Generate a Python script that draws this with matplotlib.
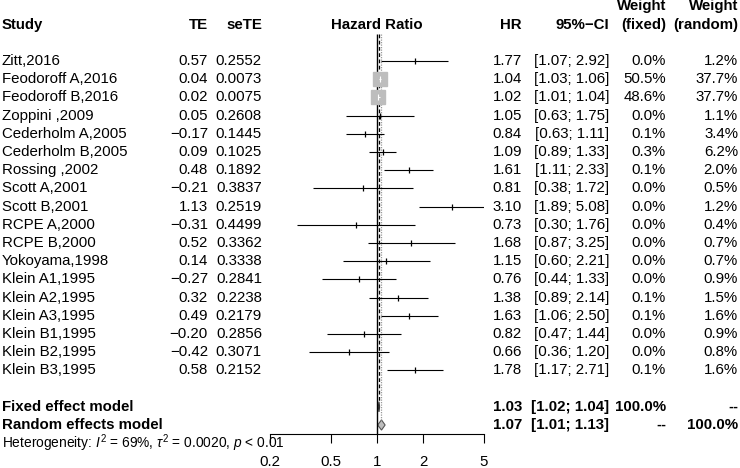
import matplotlib
matplotlib.use('Agg')
import matplotlib.pyplot as plt
import matplotlib.transforms as mtransforms
from matplotlib.ticker import NullLocator
import numpy as np

plt.rcParams['font.family'] = ['Liberation Sans', 'DejaVu Sans']
plt.rcParams['mathtext.fontset'] = 'custom'
plt.rcParams['mathtext.rm'] = 'Liberation Sans'
plt.rcParams['mathtext.it'] = 'Liberation Sans:italic'

# data
studies = ['Zitt,2016', 'Feodoroff A,2016', 'Feodoroff B,2016', 'Zoppini ,2009',
           'Cederholm A,2005', 'Cederholm B,2005', 'Rossing ,2002', 'Scott A,2001',
           'Scott B,2001', 'RCPE A,2000', 'RCPE B,2000', 'Yokoyama,1998',
           'Klein A1,1995', 'Klein A2,1995', 'Klein A3,1995', 'Klein B1,1995',
           'Klein B2,1995', 'Klein B3,1995']
te = [0.57, 0.04, 0.02, 0.05, -0.17, 0.09, 0.48, -0.21, 1.13, -0.31, 0.52, 0.14,
      -0.27, 0.32, 0.49, -0.20, -0.42, 0.58]
sete = ['0.2552', '0.0073', '0.0075', '0.2608', '0.1445', '0.1025', '0.1892', '0.3837',
        '0.2519', '0.4499', '0.3362', '0.3338', '0.2841', '0.2238', '0.2179', '0.2856',
        '0.3071', '0.2152']
hr = [1.77, 1.04, 1.02, 1.05, 0.84, 1.09, 1.61, 0.81, 3.10, 0.73, 1.68, 1.15,
      0.76, 1.38, 1.63, 0.82, 0.66, 1.78]
lo = [1.07, 1.03, 1.01, 0.63, 0.63, 0.89, 1.11, 0.38, 1.89, 0.30, 0.87, 0.60,
      0.44, 0.89, 1.06, 0.47, 0.36, 1.17]
hi = [2.92, 1.06, 1.04, 1.75, 1.11, 1.33, 2.33, 1.72, 5.08, 1.76, 3.25, 2.21,
      1.33, 2.14, 2.50, 1.44, 1.20, 2.71]
w_fixed = [0.0, 50.5, 48.6, 0.0, 0.1, 0.3, 0.1, 0.0, 0.0, 0.0, 0.0, 0.0,
           0.0, 0.1, 0.1, 0.0, 0.0, 0.1]
w_random = [1.2, 37.7, 37.7, 1.1, 3.4, 6.2, 2.0, 0.5, 1.2, 0.4, 0.7, 0.7,
            0.9, 1.5, 1.6, 0.9, 0.8, 1.6]

fixed_est, fixed_lo, fixed_hi = 1.03, 1.02, 1.04
random_est, random_lo, random_hi = 1.07, 1.01, 1.13
xticks = [0.2, 0.5, 1, 2, 5]

W, H = 740, 468
row0, dy = 61, 18.2
fs = 10.8

fig = plt.figure(figsize=(W / 100, H / 100), dpi=100)
ax = fig.add_axes([270 / W, 0, 214 / W, 1])
ax.set_xscale('log')
ax.set_xlim(0.2, 5)
ax.set_ylim((H - row0) / dy, -row0 / dy)
ax.patch.set_visible(False)

tr = mtransforms.blended_transform_factory(fig.transFigure, ax.transData)


def txt(xpx, y, s, ha='right', bold=False, size=fs):
    ax.text(xpx / W, y, s, transform=tr, ha=ha, va='center',
            fontweight='bold' if bold else 'normal', fontsize=size, clip_on=False)


def minus(v):
    return ('%.2f' % v).replace('-', '\u2212')


# headers
txt(2, -2, 'Study', ha='left', bold=True)
txt(208, -2, 'TE', bold=True)
txt(262, -2, 'seTE', bold=True)
txt(377, -2, 'Hazard Ratio', ha='center', bold=True)
txt(522, -2, 'HR', bold=True)
txt(609, -2, '95%\u2212CI', bold=True)
txt(666, -3, 'Weight', bold=True)
txt(666, -2, '(fixed)', bold=True)
txt(738, -3, 'Weight', bold=True)
txt(738, -2, '(random)', bold=True)

rows = np.arange(len(studies))
for i, r in enumerate(rows):
    txt(2, r, studies[i], ha='left')
    txt(208, r, minus(te[i]))
    txt(262, r, sete[i])
    txt(522, r, '%.2f' % hr[i])
    txt(609, r, '[%.2f; %.2f]' % (lo[i], hi[i]))
    txt(666, r, '%.1f%%' % w_fixed[i])
    txt(738, r, '%.1f%%' % w_random[i])

# reference lines
r_fix, r_ran, r_het = len(studies) + 1, len(studies) + 2, len(studies) + 3
ax.vlines(1, -1.5, r_ran + 0.48, color='black', lw=1.0)
ax.vlines(fixed_est, -1.5, r_fix - 0.3, color='black', lw=0.9, linestyles=(0, (3, 2)))
ax.vlines(random_est, -1.5, r_ran - 0.3, color='#999999', lw=0.9, linestyles=(0, (1, 1)))

# study CIs and squares
ax.hlines(rows, lo, hi, color='black', lw=0.8)
ax.plot(hr, rows, ls='none', marker='|', ms=4.5, mew=0.9, color='black')
side = 14.7 * np.sqrt(np.array(w_fixed) / max(w_fixed))
for i, r in enumerate(rows):
    if side[i] > 3:
        ax.plot(hr[i], r, marker='s', ms=side[i] * 0.72, color='#bdbdbd', mec='#bdbdbd')
        ax.hlines(r, lo[i], hi[i], color='white', lw=0.8)
        ax.plot(hr[i], r, marker='|', ms=4, mew=0.8, color='white')

# summary diamonds
h = 0.28
ax.fill([fixed_lo, fixed_est, fixed_hi, fixed_est], [r_fix, r_fix - h, r_fix, r_fix + h],
        facecolor='#999999', edgecolor='#333333', lw=0.8)
ax.fill([random_lo, random_est, random_hi, random_est], [r_ran, r_ran - h, r_ran, r_ran + h],
        facecolor='#bdbdbd', edgecolor='#555555', lw=0.8)

txt(2, r_fix, 'Fixed effect model', ha='left', bold=True)
txt(522, r_fix, '%.2f' % fixed_est, bold=True)
txt(609, r_fix, '[%.2f; %.2f]' % (fixed_lo, fixed_hi), bold=True)
txt(666, r_fix, '100.0%', bold=True)
txt(738, r_fix, '--', bold=True)
txt(2, r_ran, 'Random effects model', ha='left', bold=True)
txt(522, r_ran, '%.2f' % random_est, bold=True)
txt(609, r_ran, '[%.2f; %.2f]' % (random_lo, random_hi), bold=True)
txt(666, r_ran, '--', bold=True)
txt(738, r_ran, '100.0%', bold=True)
txt(2, r_het, r'Heterogeneity: $I^2$ = 69%, $\tau^2$ = 0.0020, $p$ < 0.01', ha='left', size=9.9)

# axis
for s in ['top', 'right', 'left']:
    ax.spines[s].set_visible(False)
ax.spines['bottom'].set_position(('data', r_ran + 0.48))
ax.spines['bottom'].set_linewidth(0.8)
ax.xaxis.set_ticks_position('bottom')
ax.set_xticks(xticks, ['0.2', '0.5', '1', '2', '5'])
ax.xaxis.set_minor_locator(NullLocator())
ax.tick_params(axis='x', length=6.5, width=0.8, labelsize=fs, pad=8.5)
ax.set_yticks([])

fig.savefig('out.png', dpi=100)
